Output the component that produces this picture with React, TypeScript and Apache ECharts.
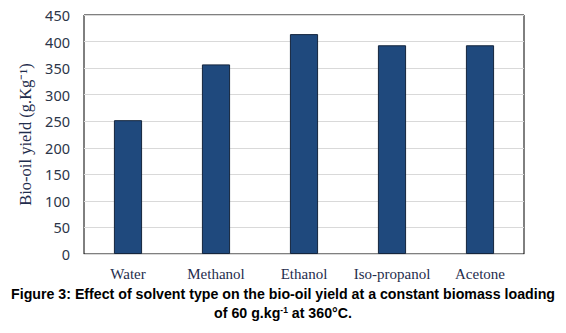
import React, { useEffect, useRef } from "react";
import * as echarts from "echarts";

const categories = ["Water", "Methanol", "Ethanol", "Iso-propanol", "Acetone"];
const yieldValues = [252, 357, 414, 393, 393];
const yAxisTitle = "Bio-oil yield (g.Kg⁻¹)";
const captionLine1 = "Figure 3: Effect of solvent type on the bio-oil yield at a constant biomass loading";
const captionLine2a = "of 60 g.kg";
const captionSup = "-1";
const captionLine2b = " at 360°C.";

export default function App() {
  const ref = useRef<HTMLDivElement>(null);
  useEffect(() => {
    document.body.style.margin = "0";
    if (!ref.current) return;
    const chart = echarts.init(ref.current, null, { renderer: "svg" });
    chart.setOption({
      animation: false,
      backgroundColor: "#ffffff",
      grid: {
        left: 84,
        right: 42,
        top: 15,
        bottom: 79,
        show: true,
        borderColor: "#000000",
        borderWidth: 1,
      },
      xAxis: {
        type: "category",
        data: categories,
        axisLine: { show: true, lineStyle: { color: "#d9d9d9", width: 1 } },
        axisTick: { show: false },
        axisLabel: {
          interval: 0,
          fontFamily: "Liberation Serif",
          fontSize: 15,
          color: "#1f2d4d",
          margin: 12,
        },
      },
      yAxis: {
        type: "value",
        min: 0,
        max: 450,
        interval: 50,
        name: yAxisTitle,
        nameLocation: "middle",
        nameGap: 46,
        nameTextStyle: {
          fontFamily: "Liberation Serif",
          fontSize: 16.5,
          color: "#1f2d4d",
        },
        axisLine: { show: false },
        axisTick: { show: false },
        axisLabel: {
          fontFamily: "Noto Sans",
          fontSize: 14.5,
          color: "#2b3548",
          margin: 14,
        },
        splitLine: { lineStyle: { color: "#d9d9d9", width: 1 } },
      },
      series: [
        {
          type: "bar",
          data: yieldValues,
          barWidth: "32%",
          itemStyle: {
            color: "#1f497d",
            borderColor: "#14253d",
            borderWidth: 1,
          },
        },
      ],
      graphic: [
        {
          type: "text",
          left: "center",
          top: 287,
          style: {
            text: captionLine1,
            font: "bold 14.2px 'Liberation Sans'",
            fill: "#000000",
          },
        },
        {
          type: "text",
          left: "center",
          top: 305,
          style: {
            text: `{a|${captionLine2a}}{s|${captionSup}}{a|${captionLine2b}}`,
            rich: {
              a: { font: "bold 14.2px 'Liberation Sans'", fill: "#000000", color: "#000000" },
              s: { font: "bold 8.5px 'Liberation Sans'", fill: "#000000", color: "#000000", verticalAlign: "top", padding: [0, 0, 7, 0] },
            },
          },
        },
      ],
    });
    return () => chart.dispose();
  }, []);
  return <div ref={ref} style={{ width: 566, height: 333 }} />;
}
